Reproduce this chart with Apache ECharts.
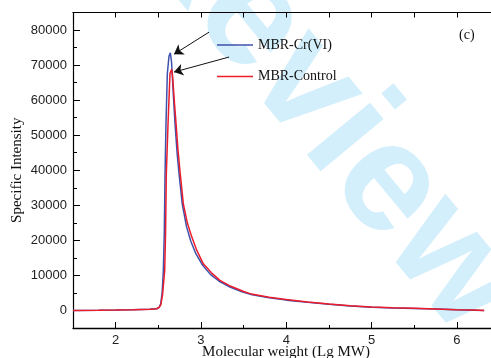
<!DOCTYPE html>
<html>
<head>
<meta charset="utf-8">
<script src="https://cdn.jsdelivr.net/npm/echarts@6/dist/echarts.min.js"></script>
<style>
  html, body { margin: 0; padding: 0; background: #fff; }
  #chartmain { width: 491px; height: 358px; }
</style>
</head>
<body>
<div id="chartmain"></div>
<script>
// 数据
var xCr = [1.5, 1.8, 2.0, 2.2, 2.4, 2.48, 2.51, 2.528, 2.545, 2.559, 2.57, 2.579, 2.59, 2.606, 2.625, 2.641, 2.655, 2.675, 2.696, 2.72, 2.743, 2.78, 2.83, 2.88, 2.94, 3.02, 3.11, 3.21, 3.34, 3.48, 3.6, 3.8, 4.0, 4.25, 4.5, 4.75, 5.0, 5.25, 5.5, 5.75, 6.0, 6.2, 6.32];
var yCr = [0, 50, 100, 200, 350, 500, 900, 1900, 5000, 11400, 22000, 39000, 53300, 67600, 72500, 73500, 71000, 62000, 53300, 45000, 39000, 30500, 24000, 19800, 16200, 12900, 10300, 8400, 6700, 5300, 4500, 3650, 2950, 2350, 1800, 1300, 930, 730, 580, 400, 200, 90, 0];

var xCtrl = [1.5, 1.8, 2.0, 2.2, 2.4, 2.48, 2.51, 2.53, 2.55, 2.575, 2.585, 2.594, 2.614, 2.637, 2.657, 2.667, 2.69, 2.708, 2.73, 2.755, 2.793, 2.84, 2.892, 2.95, 3.028, 3.12, 3.222, 3.35, 3.5, 3.576, 3.8, 4.0, 4.25, 4.5, 4.75, 5.0, 5.25, 5.5, 5.75, 6.0, 6.2, 6.32];
var yCtrl = [0, 50, 100, 200, 350, 500, 850, 1700, 4500, 11400, 22000, 39000, 53300, 67600, 68800, 67000, 59000, 53300, 46000, 39500, 30500, 25000, 21000, 17200, 13300, 10800, 8600, 6900, 5400, 4800, 3800, 3100, 2450, 1850, 1350, 980, 770, 610, 420, 220, 100, 0];

var xLabels = [2, 3, 4, 5, 6];
var xMinor = [1.5, 2.5, 3.5, 4.5, 5.5];
var xTop = [2, 2.5, 3, 3.5, 4, 4.5, 5, 5.5, 6];
var yLabels = [0, 10000, 20000, 30000, 40000, 50000, 60000, 70000, 80000];
var yMinor = [-5000, 5000, 15000, 25000, 35000, 45000, 55000, 65000, 75000];

function pairs(xs, ys) {
    var out = [];
    for (var i = 0; i < xs.length; i++) {
        out.push([xs[i], ys[i]]);
    }
    return out;
}

var blue = '#3c52ad';
var red = '#ec1c2a';
var serif = '"Liberation Serif", "Times New Roman", serif';
var sans = '"Liberation Sans", Arial, sans-serif';

option = {
    animation: false,
    grid: { left: 73, right: 0, top: 12.5, bottom: 30, outerBoundsMode: 'none' },
    legend: {
        orient: 'vertical',
        left: 212,
        top: 33,
        icon: 'rect',
        itemWidth: 36,
        itemHeight: 1.5,
        itemGap: 17.5,
        textStyle: { fontFamily: serif, fontSize: 14, color: '#111' },
        data: ['MBR-Cr(VI)', 'MBR-Control']
    },
    xAxis: [
        {
            type: 'value', min: 1.5, max: 6.4, position: 'bottom',
            name: 'Molecular weight (Lg MW)',
            nameLocation: 'middle',
            nameGap: 17,
            nameMoveOverlap: false,
            nameTextStyle: { fontFamily: serif, fontSize: 15, color: '#111', padding: [0, 0, 0, 8] },
            axisLine: { show: true, onZero: false, lineStyle: { color: '#000', width: 1.3 } },
            axisTick: { show: true, inside: true, length: 6, customValues: xLabels, lineStyle: { color: '#000' } },
            axisLabel: { customValues: xLabels, fontFamily: sans, fontSize: 13, color: '#222', margin: 6 },
            splitLine: { show: false }
        },
        {
            type: 'value', min: 1.5, max: 6.4, position: 'bottom',
            axisLine: { show: false, onZero: false },
            axisTick: { show: true, inside: true, length: 3, customValues: xMinor, lineStyle: { color: '#000' } },
            axisLabel: { show: false },
            splitLine: { show: false }
        },
        {
            type: 'value', min: 1.5, max: 6.4, position: 'top',
            axisLine: { show: true, onZero: false, lineStyle: { color: '#000', width: 1.2 } },
            axisTick: { show: true, inside: true, length: 5, customValues: xTop, lineStyle: { color: '#000' } },
            axisLabel: { show: false },
            splitLine: { show: false }
        }
    ],
    yAxis: [
        {
            type: 'value', min: -5000, max: 85000, position: 'left',
            name: 'Specific Intensity',
            nameLocation: 'middle',
            nameGap: 48,
            nameMoveOverlap: false,
            nameTextStyle: { fontFamily: serif, fontSize: 15, color: '#111' },
            axisLine: { show: true, onZero: false, lineStyle: { color: '#000', width: 1.2 } },
            axisTick: { show: true, inside: true, length: 7, customValues: yLabels, lineStyle: { color: '#000' } },
            axisLabel: {
                customValues: yLabels, fontFamily: sans, fontSize: 13, color: '#222', margin: 6,
                formatter: function (v) { return String(v); }
            },
            splitLine: { show: false }
        },
        {
            type: 'value', min: -5000, max: 85000, position: 'left',
            axisLine: { show: false, onZero: false },
            axisTick: { show: true, inside: true, length: 4, customValues: yMinor, lineStyle: { color: '#000' } },
            axisLabel: { show: false },
            splitLine: { show: false }
        }
    ],
    graphic: [
        {
            type: 'text',
            z: -10,
            silent: true,
            x: 322,
            y: 106,
            rotation: -50.4 * Math.PI / 180,
            style: {
                text: 'Review',
                fontFamily: sans,
                fontWeight: 'bold',
                fontSize: 155,
                fill: '#d3effb',
                align: 'center',
                verticalAlign: 'middle'
            }
        },
        {
            type: 'text',
            x: 459,
            y: 35,
            style: {
                text: '(c)',
                fontFamily: serif,
                fontSize: 14,
                fill: '#111',
                verticalAlign: 'middle'
            }
        }
    ],
    series: [
        {
            name: 'MBR-Cr(VI)',
            type: 'line',
            symbol: 'none',
            lineStyle: { color: blue, width: 1.5 },
            itemStyle: { color: blue },
            data: pairs(xCr, yCr),
            markLine: {
                silent: true,
                symbol: ['none', 'arrow'],
                symbolSize: 9,
                label: { show: false },
                lineStyle: { color: '#111', width: 1, type: 'solid' },
                data: [
                    [{ coord: [3.095, 79400] }, { coord: [2.684, 73100] }],
                    [{ coord: [3.33, 72300] }, { coord: [2.684, 68000] }]
                ]
            }
        },
        {
            name: 'MBR-Control',
            type: 'line',
            symbol: 'none',
            lineStyle: { color: red, width: 1.5 },
            itemStyle: { color: red },
            data: pairs(xCtrl, yCtrl)
        }
    ]
};

var myChart = echarts.init(document.getElementById('chartmain'));
myChart.setOption(option);
</script>
</body>
</html>
